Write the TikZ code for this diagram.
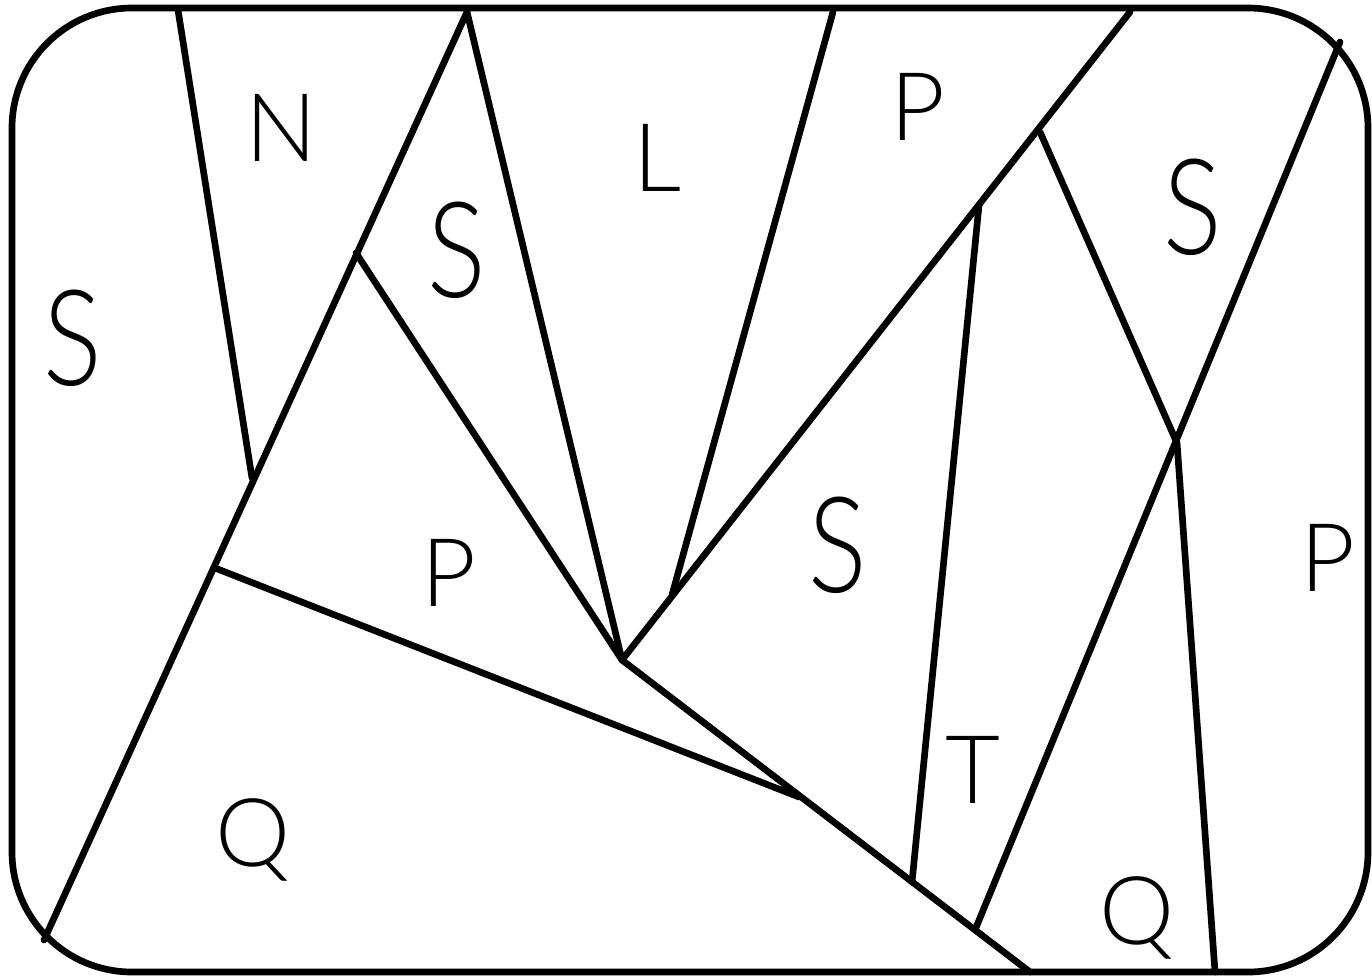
\documentclass[tikz,border=0pt]{standalone}
\usepackage{fontspec}
\usepackage{tikz}
\IfFontExistsTF{Lato-Light.ttf}
  {\newfontfamily\mapfont{Lato-Light.ttf}}
  {\IfFontExistsTF{FiraSans-Light.otf}
    {\newfontfamily\mapfont{FiraSans-Light.otf}}
    {\newfontfamily\mapfont{Poppins}}}
\usetikzlibrary{calc}

\begin{document}
\begin{tikzpicture}[
    x=0.02cm, y=-0.02cm,
    edge/.style={line width=3.8pt, line cap=round, line join=round},
    region/.style={inner sep=0pt, font=\mapfont\fontsize{54}{54}\selectfont},
    bigregion/.style={inner sep=0pt, xscale=0.82, transform shape,
                      font=\mapfont\fontsize{76}{76}\selectfont},
]
    \useasboundingbox (0,0) rectangle (1372,978);

    % border
    \draw[edge, rounded corners=2.4cm] (12,8) rectangle (1368,972);

    % points on the border
    \coordinate (t1) at (178,10);
    \coordinate (t2) at (467,12);
    \coordinate (t3) at (833,12);
    \coordinate (t4) at (1130,12);
    \coordinate (r1) at (1340,42);
    \coordinate (b1) at (44,940);
    \coordinate (b2) at (1030,972);
    \coordinate (b3) at (1215,972);

    % inner junctions
    \coordinate (j1) at (252,478);
    \coordinate (j2) at (356,253);
    \coordinate (j3) at (215,568);
    \coordinate (c)  at (622,660);
    \coordinate (k)  at (672,595);
    \coordinate (m)  at (799,797);
    \coordinate (n)  at (912,882);
    \coordinate (o)  at (975,930);
    \coordinate (u)  at (979,205);
    \coordinate (v)  at (1040,132);
    \coordinate (w)  at (1177,443);

    % dividing lines
    \draw[edge] (t1) -- (j1);
    \draw[edge] (t2) -- (b1);
    \draw[edge] (j2) -- (c);
    \draw[edge] (t2) -- (c);
    \draw[edge] (t3) -- (k);
    \draw[edge] (t4) -- (c);
    \draw[edge] (j3) -- (m);
    \draw[edge] (c) -- (b2);
    \draw[edge] (u) -- (n);
    \draw[edge] (v) -- (w);
    \draw[edge] (r1) -- (o);
    \draw[edge] (w) -- (b3);

    % region labels
    \node[bigregion] (s1) at (73,338) {S};
    \node[region] (n1) at (281,128) {N};
    \node[bigregion] (s2) at (457,250) {S};
    \node[region] (l1) at (657,158) {L};
    \node[region] (p1) at (918,107) {P};
    \node[bigregion] (s3) at (1193,207) {S};
    \node[region] (p2) at (449,573) {P};
    \node[bigregion] (s4) at (838,545) {S};
    \node[region] (p3) at (1328,558) {P};
    \node[region] (t5) at (973,770) {T};
    \node[region] (q1) at (253,840) {Q};
    \node[region] (q2) at (1137,918) {Q};
\end{tikzpicture}
\end{document}
